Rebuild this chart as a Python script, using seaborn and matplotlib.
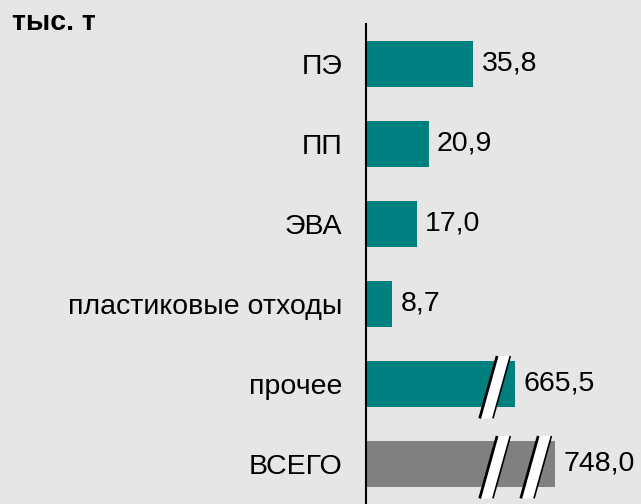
import matplotlib
matplotlib.use("Agg")
import matplotlib.pyplot as plt
import seaborn as sns
import pandas as pd
from matplotlib.patches import Polygon

# Data
categories = ["ПЭ", "ПП", "ЭВА", "пластиковые отходы", "прочее", "ВСЕГО"]
values = [35.8, 20.9, 17.0, 8.7, 665.5, 748.0]
# bar length drawn on the axis (large bars are cut with break marks)
shown = [35.8, 20.9, 17.0, 8.7, 49.7, 63.0]
breaks = {"прочее": [43.0], "ВСЕГО": [43.0, 56.7]}
bar_colors = ["#007F7F"] * 5 + ["#808080"]
unit_label = "тыс. т"

bg = "#E6E6E6"
sns.set_theme(style="white")
plt.rcParams["font.family"] = ["Liberation Sans", "DejaVu Sans"]
plt.rcParams["text.color"] = "black"
plt.rcParams["ytick.color"] = "black"
plt.rcParams["ytick.labelcolor"] = "black"

df = pd.DataFrame({"cat": categories, "shown": shown})

fig = plt.figure(figsize=(6.41, 5.04), dpi=100, facecolor=bg)
ax = fig.add_axes([366 / 641, 0.0, 275 / 641, 480 / 504])
ax.set_facecolor(bg)

sns.barplot(data=df, x="shown", y="cat", hue="cat", palette=bar_colors,
            legend=False, width=0.57, ax=ax, saturation=1, linewidth=0)

ax.set_xlim(0, 275 / 3.0)
ax.set_ylim(5.5, -0.5)
ax.set_xlabel("")
ax.set_ylabel("")
ax.set_xticks([])
for s in ["top", "right", "bottom"]:
    ax.spines[s].set_visible(False)
ax.spines["left"].set_color("black")
ax.spines["left"].set_linewidth(1.5)
ax.tick_params(axis="y", length=0, pad=17, labelsize=20.5, labelcolor="black")

# value labels
for i, (v, s) in enumerate(zip(values, shown)):
    ax.annotate(f"{v:.1f}".replace(".", ","), xy=(s, i), xytext=(6, 0),
                textcoords="offset points", va="center", ha="left",
                fontsize=20.5, color="black")

# break marks (slanted white gaps with black edges)
for i, cat in enumerate(categories):
    for xc in breaks.get(cat, []):
        top, bot = i - 0.35, i + 0.43
        half = 2.2
        dx = 2.9
        pts = [(xc - half - dx, bot), (xc + half - dx, bot),
               (xc + half + dx, top), (xc - half + dx, top)]
        ax.add_patch(Polygon(pts, closed=True, facecolor="white",
                             edgecolor="none", zorder=5, clip_on=False))
        ax.plot([pts[0][0], pts[3][0]], [pts[0][1], pts[3][1]], color="black",
                lw=2, zorder=6, clip_on=False, solid_capstyle="butt")
        ax.plot([pts[1][0], pts[2][0]], [pts[1][1], pts[2][1]], color="black",
                lw=1.2, zorder=6, clip_on=False, solid_capstyle="butt")

fig.text(12 / 641, 1 - 23 / 504, unit_label, fontsize=20.5, fontweight="bold",
         ha="left", va="center", color="black")

fig.savefig("out.png", dpi=100, facecolor=bg)
